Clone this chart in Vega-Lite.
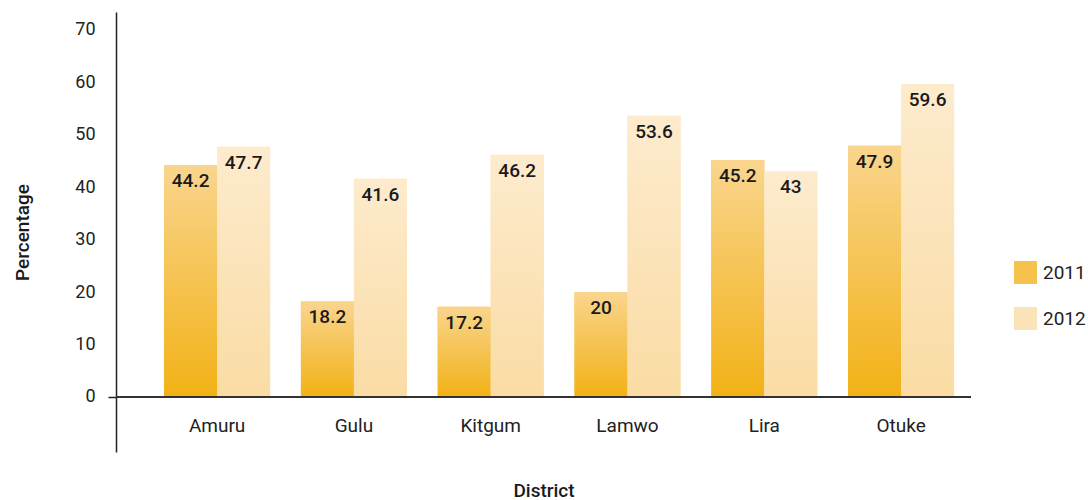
{
  "$schema": "https://vega.github.io/schema/vega-lite/v6.json",
  "width": 855,
  "height": 440,
  "autosize": {"type": "none"},
  "padding": {"left": 116, "top": 12, "right": 117, "bottom": 48},
  "background": "white",
  "config": {
    "view": {"stroke": null},
    "font": "Roboto"
  },
  "data": {
    "values": [
      {"district": "Amuru", "year": "2011", "value": 44.2},
      {"district": "Amuru", "year": "2012", "value": 47.7},
      {"district": "Gulu", "year": "2011", "value": 18.2},
      {"district": "Gulu", "year": "2012", "value": 41.6},
      {"district": "Kitgum", "year": "2011", "value": 17.2},
      {"district": "Kitgum", "year": "2012", "value": 46.2},
      {"district": "Lamwo", "year": "2011", "value": 20},
      {"district": "Lamwo", "year": "2012", "value": 53.6},
      {"district": "Lira", "year": "2011", "value": 45.2},
      {"district": "Lira", "year": "2012", "value": 43},
      {"district": "Otuke", "year": "2011", "value": 47.9},
      {"district": "Otuke", "year": "2012", "value": 59.6}
    ]
  },
  "encoding": {
    "x": {
      "field": "district",
      "type": "nominal",
      "sort": null,
      "scale": {"paddingInner": 0.225, "paddingOuter": 0.2376, "align": 0.74},
      "axis": {
        "title": "District",
        "titleFontSize": 19,
        "titleFontWeight": 500,
        "titleColor": "#1a1a1a",
        "titleBaseline": "middle",
        "titleY": 38,
        "domain": false,
        "ticks": false,
        "labelAngle": 0,
        "labelFontSize": 19,
        "labelColor": "#222222",
        "labelBaseline": "middle",
        "labelPadding": -27
      }
    },
    "xOffset": {"field": "year", "type": "nominal", "scale": {"paddingInner": 0, "paddingOuter": 0}},
    "y": {
      "field": "value",
      "type": "quantitative",
      "scale": {"domain": [-10.5, 73.4], "nice": false, "zero": false},
      "axis": {
        "title": "Percentage",
        "titleFontSize": 19,
        "titleFontWeight": 500,
        "titleColor": "#1a1a1a",
        "titlePadding": 42,
        "values": [0, 10, 20, 30, 40, 50, 60, 70],
        "grid": false,
        "domainColor": "#222222",
        "domainWidth": 1.5,
        "tickSize": 8,
        "tickColor": "#222222",
        "tickWidth": 1.5,
        "tickOpacity": {"condition": {"test": "datum.value === 0", "value": 1}, "value": 0},
        "labelPadding": 13,
        "labelFontSize": 18,
        "labelColor": "#222222"
      }
    }
  },
  "layer": [
    {
      "mark": {"type": "bar"},
      "encoding": {
        "y2": {"datum": 0},
        "color": {
          "field": "year",
          "type": "nominal",
          "scale": {"domain": ["2011", "2012"], "range": ["#F5C24E", "#FBE3B8"]},
          "legend": {
            "title": null,
            "orient": "none",
            "legendX": 898,
            "legendY": 249,
            "padding": 0,
            "symbolType": "square",
            "symbolSize": 529,
            "symbolStrokeWidth": 0,
            "rowPadding": 23,
            "labelOffset": 6,
            "labelFontSize": 19,
            "labelColor": "#222222",
            "encode": {
              "symbols": {
                "update": {
                  "fill": {"signal": "datum.value === '2011' ? {gradient: 'linear', x1: 0, y1: 1, x2: 0, y2: 0, stops: [{offset: 0, color: '#F2B115'}, {offset: 1, color: '#F9D58E'}]} : {gradient: 'linear', x1: 0, y1: 1, x2: 0, y2: 0, stops: [{offset: 0, color: '#FADCA4'}, {offset: 1, color: '#FDEBCD'}]}"}
                }
              }
            }
          }
        }
      }
    },
    {
      "mark": {"type": "bar"},
      "encoding": {
        "y2": {"datum": 0},
        "color": {
          "condition": {
            "test": "datum.year === '2011'",
            "value": {"gradient": "linear", "x1": 0, "y1": 1, "x2": 0, "y2": 0, "stops": [{"offset": 0, "color": "#F2B115"}, {"offset": 1, "color": "#F9D58E"}]}
          },
          "value": {"gradient": "linear", "x1": 0, "y1": 1, "x2": 0, "y2": 0, "stops": [{"offset": 0, "color": "#FADCA4"}, {"offset": 1, "color": "#FDEBCD"}]}
        }
      }
    },
    {
      "mark": {"type": "text", "baseline": "middle", "dy": 16, "fontSize": 19, "fontWeight": 500, "color": "#1a1a1a"},
      "encoding": {
        "text": {"field": "value", "type": "quantitative"}
      }
    },
    {
      "mark": {"type": "rule", "color": "#333333", "strokeWidth": 1.5},
      "encoding": {"y": {"datum": 0}, "x": null, "xOffset": null}
    }
  ]
}
